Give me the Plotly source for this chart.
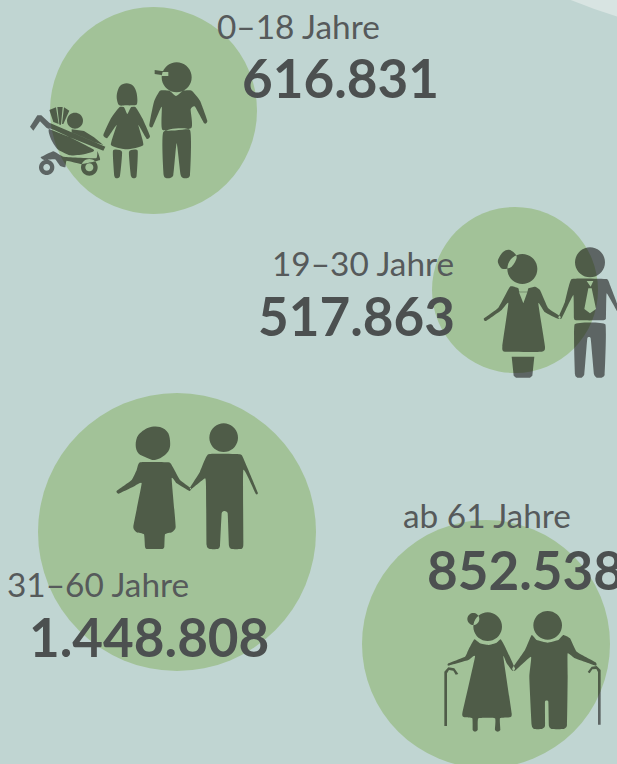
import plotly.graph_objects as go
import math

# ---- data ----
age_groups = ["0–18 Jahre", "19–30 Jahre", "31–60 Jahre", "ab 61 Jahre"]
persons = [616831, 517863, 1448808, 852538]

# ---- layout of the infographic (page pixels) ----
W, H = 617, 764
BG = "#c0d5d2"
GREEN = "#a2c298"
ICON = "rgba(3,0,0,0.525)"
LABEL = "#565a5b"
NUMBER = "#4c5050"
LABEL_FONT = "Lato"
bubble_x = [153.5, 515, 177, 486]
bubble_y = [110.5, 290, 532, 644]
bubble_d = [207, 166, 278, 248]
label_pos = [(382, 26), (456, 263), (191, 584), (573, 515)]
number_pos = [(240, 77), (256, 315), (27, 636), (425, 569)]
LABEL_SIZE = 33.4
NUMBER_SIZE = 53


def fmt(v):
    return f"{v:,}".replace(",", ".")


def orient(pts, hole=False):
    """Same winding for all solid outlines, the opposite one for holes."""
    a = sum(pts[i - 1][0] * pts[i][1] - pts[i][0] * pts[i - 1][1] for i in range(len(pts)))
    want_positive = not hole
    return list(pts) if (a > 0) == want_positive else list(reversed(pts))


def smooth(pts, ox, oy, k=0.16):
    """closed Catmull-Rom outline; pts are in 3x crop units around an icon origin"""
    pts = orient(pts)
    p = [(ox + x / 3, oy + y / 3) for x, y in pts]
    n = len(p)
    d = f"M{p[0][0]:.2f} {p[0][1]:.2f}"
    for i in range(n):
        p0, p1, p2, p3 = p[i - 1], p[i], p[(i + 1) % n], p[(i + 2) % n]
        c1 = (p1[0] + (p2[0] - p0[0]) * k, p1[1] + (p2[1] - p0[1]) * k)
        c2 = (p2[0] - (p3[0] - p1[0]) * k, p2[1] - (p3[1] - p1[1]) * k)
        d += f"C{c1[0]:.2f} {c1[1]:.2f} {c2[0]:.2f} {c2[1]:.2f} {p2[0]:.2f} {p2[1]:.2f}"
    return d + "Z"


def poly(pts, ox, oy, hole=False):
    pts = orient(pts, hole)
    p = [(ox + x / 3, oy + y / 3) for x, y in pts]
    return "M" + "L".join(f"{x:.2f} {y:.2f}" for x, y in p) + "Z"


def circ(cx, cy, r, ox, oy, hole=False):
    return poly([(cx + r * math.cos(a * math.pi / 18), cy + r * math.sin(a * math.pi / 18)) for a in range(36)], ox, oy, hole)


def icon_children():
    o = (20, 50)
    d = []
    # boy
    d.append(circ(470, 82, 45, *o))
    d.append(poly([(404, 60), (445, 66), (445, 78), (404, 72)], *o))
    d.append(smooth([(420, 122), (448, 122), (468, 138), (490, 122), (515, 122), (540, 152), (562, 212), (553, 220),
                     (525, 170), (512, 178), (514, 234), (428, 240), (425, 170), (398, 230), (388, 226), (402, 155)], *o, k=0.08))
    d.append(smooth([(430, 246), (510, 240), (510, 375), (494, 385), (482, 375), (470, 280), (460, 375), (445, 385), (431, 375)], *o, k=0.08))
    # girl
    d.append(smooth([(291, 130), (300, 108), (320, 100), (340, 108), (350, 130), (351, 162), (335, 166), (318, 166),
                     (298, 166), (291, 150)], *o))
    d.append(smooth([(298, 172), (312, 172), (322, 192), (333, 172), (347, 172), (367, 205), (390, 258), (380, 266),
                     (355, 225), (370, 285), (320, 298), (273, 285), (290, 225), (262, 264), (250, 255), (273, 205)], *o, k=0.08))
    d.append(smooth([(279, 302), (306, 305), (300, 378), (290, 385), (283, 378)], *o, k=0.08))
    d.append(smooth([(327, 305), (353, 302), (350, 378), (342, 385), (333, 378)], *o, k=0.08))
    # stroller
    d.append(circ(80, 352, 23, *o) + circ(80, 352, 10, *o, hole=True))
    d.append(circ(208, 352, 25, *o) + circ(208, 352, 12, *o, hole=True))
    d.append(poly([(30, 230), (52, 196), (64, 196), (88, 218), (256, 290), (250, 302), (80, 234), (60, 214), (40, 242)], *o))
    d.append(poly([(88, 180), (108, 172), (116, 222), (100, 216)], *o))
    d.append(poly([(112, 171), (128, 171), (123, 224), (118, 224)], *o))
    d.append(poly([(132, 172), (148, 182), (130, 222), (126, 222)], *o))
    d.append(circ(165, 212, 24, *o))
    d.append(poly([(155, 238), (192, 243), (222, 262), (250, 285), (225, 277), (155, 247)], *o))
    d.append(smooth([(92, 236), (220, 298), (195, 312), (150, 316), (112, 297), (92, 265)], *o, k=0.1))
    d.append(smooth([(62, 322), (100, 304), (130, 320), (228, 325), (232, 304), (240, 330), (185, 342), (140, 332),
                     (136, 352), (120, 347), (105, 328), (72, 330)], *o, k=0.05))
    return "".join(d)


def icon_young():
    o = (470, 235)
    d = []
    d.append(circ(157, 102, 45, *o))
    d.append(smooth([(84, 75), (100, 50), (120, 45), (140, 65), (125, 95), (100, 102), (88, 92)], *o))
    d.append(smooth([(120, 155), (145, 160), (148, 170), (172, 170), (175, 160), (195, 155), (210, 165), (235, 220),
                     (272, 245), (265, 252), (225, 232), (205, 205), (225, 335), (215, 350), (105, 350), (97, 335),
                     (115, 205), (95, 225), (48, 258), (42, 250), (85, 218)], *o, k=0.07))
    d.append(poly([(147, 172), (160, 205), (172, 172)], *o, hole=True))
    d.append(poly([(125, 365), (193, 365), (187, 422), (180, 428), (138, 428), (131, 422)], *o))
    d.append(circ(360, 82, 45, *o))
    d.append(smooth([(305, 132), (410, 132), (420, 150), (441, 205), (441, 228), (410, 175), (408, 250), (400, 256),
                     (318, 256), (312, 250), (310, 180), (275, 250), (265, 248), (285, 200)], *o, k=0.05))
    d.append(poly([(350, 138), (362, 155), (370, 138)], *o, hole=True))
    d.append(poly([(355, 160), (343, 222), (360, 235), (378, 222), (365, 160)], *o, hole=True))
    d.append(smooth([(314, 268), (406, 268), (404, 418), (395, 428), (380, 428), (372, 418), (362, 310), (352, 310),
                     (343, 418), (335, 428), (322, 428), (315, 418)], *o, k=0.05))
    return "".join(d)


def icon_adult():
    o = (105, 415)
    d = []
    d.append(smooth([(92, 90), (100, 60), (130, 38), (165, 36), (190, 55), (195, 95), (180, 120), (150, 135), (125, 128), (100, 115)], *o))
    d.append(smooth([(105, 142), (190, 142), (200, 150), (225, 195), (258, 220), (253, 228), (215, 205), (200, 190),
                     (212, 335), (200, 352), (180, 358), (178, 395), (172, 402), (125, 402), (120, 395), (117, 358),
                     (95, 352), (85, 335), (110, 205), (85, 215), (40, 236), (35, 228), (80, 195), (95, 165)], *o, k=0.06))
    d.append(circ(356, 68, 43, *o))
    d.append(smooth([(310, 118), (405, 118), (415, 130), (458, 232), (452, 236), (415, 165), (415, 390), (405, 402),
                     (380, 402), (372, 392), (368, 295), (358, 288), (350, 295), (345, 392), (338, 402), (315, 402),
                     (305, 390), (303, 215), (300, 190), (260, 222), (255, 218), (285, 170)], *o, k=0.06))
    return "".join(d)


def icon_senior():
    o = (435, 600)
    d = []
    d.append(circ(158, 80, 43, *o))
    d.append(circ(115, 57, 18, *o))
    d.append(smooth([(118, 118), (135, 130), (160, 135), (185, 128), (197, 118), (210, 140), (240, 205), (232, 212),
                     (215, 190), (205, 170), (230, 340), (225, 352), (195, 355), (196, 390), (188, 395), (180, 390),
                     (180, 355), (130, 355), (128, 390), (120, 395), (113, 390), (112, 355), (88, 352), (82, 340),
                     (120, 170), (100, 180), (40, 197), (40, 190), (90, 170), (100, 150)], *o, k=0.06))
    d.append(poly([(28, 378), (28, 215), (40, 202), (58, 205), (70, 222), (62, 224), (55, 212), (42, 210), (36, 220), (36, 378)], *o))
    d.append(poly([(489, 374), (497, 374), (497, 210), (485, 198), (470, 200), (458, 216), (464, 220), (472, 208), (484, 207), (489, 216)], *o))
    d.append(circ(338, 76, 43, *o))
    d.append(smooth([(290, 105), (305, 120), (338, 128), (370, 120), (385, 105), (405, 115), (425, 155), (482, 187),
                     (482, 197), (420, 175), (398, 160), (398, 230), (396, 375), (385, 387), (350, 387), (342, 378),
                     (340, 305), (330, 305), (330, 378), (320, 387), (298, 387), (290, 375), (283, 230), (288, 170),
                     (240, 212), (232, 205), (270, 150)], *o, k=0.06))
    return "".join(d)


fig = go.Figure()
fig.add_trace(go.Scatter(
    x=bubble_x, y=bubble_y, mode="markers", hoverinfo="text",
    text=[f"{a}: {fmt(v)}" for a, v in zip(age_groups, persons)],
    marker=dict(size=bubble_d, sizemode="diameter", color=GREEN, opacity=1, line=dict(width=0)),
    showlegend=False,
))

shapes = [dict(type="path", path="M566 -2Q592 9 619 17L619 -2Z", fillcolor="#d8e4e2", line=dict(width=0), layer="below")]
for p in (icon_children(), icon_young(), icon_adult(), icon_senior()):
    shapes.append(dict(type="path", path=p, fillcolor=ICON, line=dict(width=0), layer="above"))

annotations = []
for a, v, lp, np_ in zip(age_groups, persons, label_pos, number_pos):
    annotations.append(dict(x=lp[0], y=lp[1], text=a, xanchor="right", yanchor="middle", showarrow=False,
                            font=dict(family=LABEL_FONT, size=LABEL_SIZE, color=LABEL), xref="x", yref="y"))
    annotations.append(dict(x=np_[0], y=np_[1], text=f"<b>{fmt(v)}</b>", xanchor="left", yanchor="middle", showarrow=False,
                            font=dict(family=LABEL_FONT, size=NUMBER_SIZE, color=NUMBER), xref="x", yref="y"))

fig.update_layout(
    width=W, height=H, margin=dict(l=0, r=0, t=0, b=0), autosize=False,
    paper_bgcolor=BG, plot_bgcolor=BG, showlegend=False,
    xaxis=dict(range=[0, W], visible=False, fixedrange=True),
    yaxis=dict(range=[H, 0], visible=False, fixedrange=True),
    shapes=shapes, annotations=annotations,
)
fig.write_html("out.html", config={"displayModeBar": False},
               post_script="document.body.style.margin='0';document.body.style.overflow='hidden';document.body.style.background='" + BG + "';")
